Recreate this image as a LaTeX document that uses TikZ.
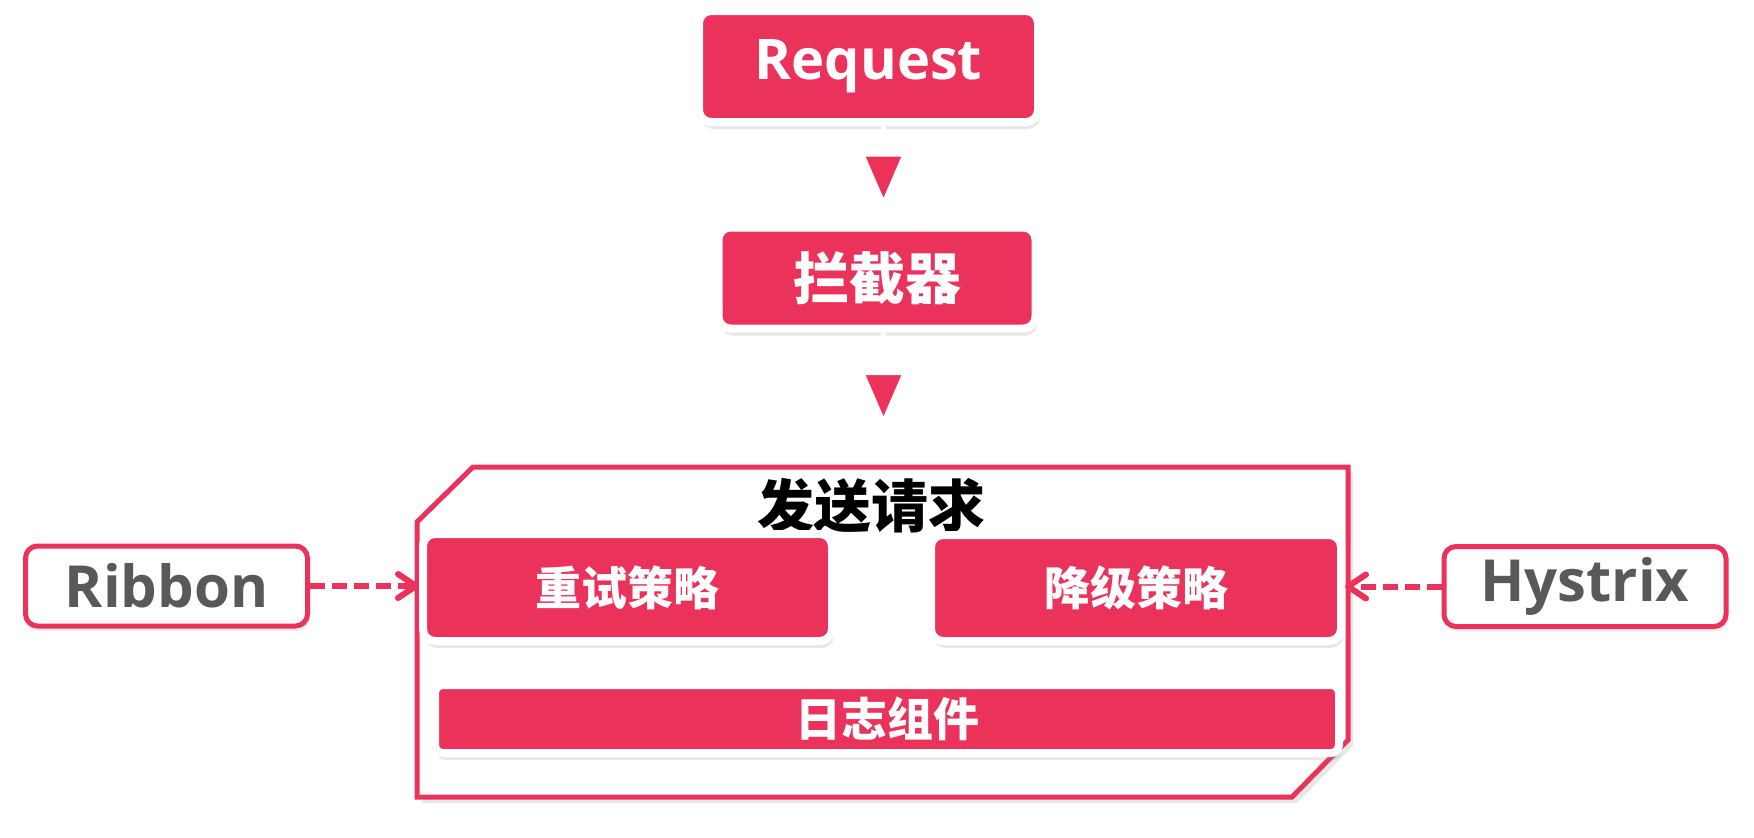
\documentclass[tikz,border=0pt]{standalone}
\usepackage{fontspec}
\setmainfont{Open Sans}
\newfontfamily\cjk{Noto Sans CJK SC}
\usetikzlibrary{arrows.meta,shadows}
\definecolor{hxred}{RGB}{234,50,91}
\definecolor{hxgray}{RGB}{89,89,89}

\begin{document}
\begin{tikzpicture}[x=1pt, y=-1pt,
  redbox/.style={draw=white, fill=hxred, line width=8pt, rounded corners=12pt,
    text=white, inner sep=0pt, font=\cjk\bfseries\fontsize{46}{50}\selectfont,
    drop shadow={shadow xshift=2pt, shadow yshift=-7pt, opacity=0.18}},
  outbox/.style={draw=hxred, fill=white, line width=5pt, rounded corners=12pt,
    text=hxgray, inner sep=0pt, minimum width=282pt, minimum height=80pt,
    font=\bfseries\fontsize{58}{62}\selectfont,
    drop shadow={shadow xshift=2pt, shadow yshift=-5pt, opacity=0.15}},
  flow/.style={white, line width=5pt,
    -{Triangle[width=58pt, length=70pt, fill=hxred, color=white, line width=8pt]}},
  hint/.style={hxred, line width=6pt, dash pattern=on 15pt off 7pt,
    -{Straight Barb[length=18pt, width=24pt, round]}}]
  \useasboundingbox (0,0) rectangle (1754,838);

  % top of the chain
  \node[redbox, minimum width=339pt, minimum height=111pt,
    font=\bfseries\fontsize{56}{60}\selectfont] (req) at (868.5,66.5) {Request};
  \node[redbox, minimum width=317pt, minimum height=101pt,
    font=\cjk\bfseries\fontsize{56}{60}\selectfont] (icp) at (877,278) {拦截器};

  % the send block
  \draw[hxred, fill=white, line width=5pt, line join=miter,
    drop shadow={shadow xshift=5pt, shadow yshift=-6pt, opacity=0.18}] %
    (417,522) -- (473,467) -- (1348,467) -- (1348,740) -- (1292,797) -- (417,797) -- cycle;
  \coordinate (sendtop) at (883.5,467);
  \node[font=\cjk\bfseries\fontsize{57}{60}\selectfont] (send) at (871,506) {发送请求};
  \node[redbox, minimum width=409pt, minimum height=107pt] (retry) at (627.5,587.5) {重试策略};
  \node[redbox, minimum width=410pt, minimum height=106pt] (degrade) at (1136,588) {降级策略};
  \node[redbox, minimum width=904pt, minimum height=68pt, rounded corners=8pt] (log) at (887,719) {日志组件};

  % outside helpers
  \node[outbox] (ribbon) at (166.5,586) {Ribbon};
  \node[outbox] (hystrix) at (1585,586.5) {Hystrix};

  \draw[flow, shorten >=5pt] (req.south -| sendtop) -- (icp.north -| sendtop);
  \draw[flow, shorten >=30pt] (icp.south -| sendtop) -- (sendtop);
  \draw[hint] (ribbon.east) -- (ribbon.east -| retry.west);
  \draw[hint] (hystrix.west) -- (hystrix.west -| degrade.east);
\end{tikzpicture}
\end{document}
